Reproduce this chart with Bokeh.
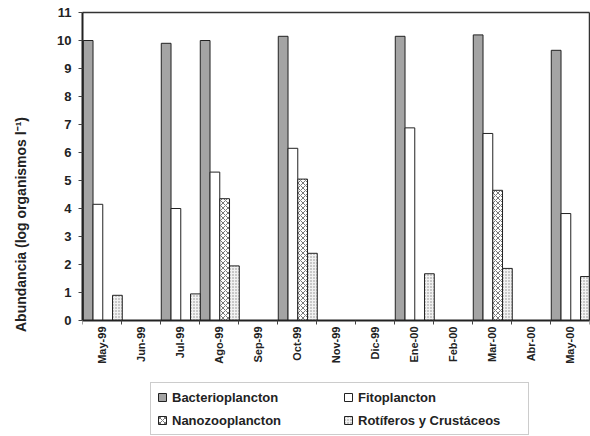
import math
from bokeh.plotting import figure
from bokeh.models import Range1d, FixedTicker, ColumnDataSource, Legend, LegendItem, LinearAxis
from bokeh.embed import file_html
from bokeh.resources import INLINE

months = ["May-99", "Jun-99", "Jul-99", "Ago-99", "Sep-99", "Oct-99", "Nov-99",
          "Dic-99", "Ene-00", "Feb-00", "Mar-00", "Abr-00", "May-00"]
bacterio = [10.0, 0, 9.9, 10.0, 0, 10.15, 0, 0, 10.15, 0, 10.2, 0, 9.65]
fito = [4.15, 0, 4.0, 5.3, 0, 6.15, 0, 0, 6.88, 0, 6.68, 0, 3.82]
nano = [0, 0, 0, 4.35, 0, 5.05, 0, 0, 0, 0, 4.65, 0, 0]
rotif = [0.9, 0, 0.95, 1.95, 0, 2.4, 0, 0, 1.67, 0, 1.86, 0, 1.57]
series_names = ["Bacterioplancton", "Fitoplancton", "Nanozooplancton", "Rotíferos y Crustáceos"]
y_ticks = list(range(0, 12))

FONT = "Liberation Sans"

styles = [
    dict(fill_color="#a4a4a4"),
    dict(fill_color="white"),
    dict(fill_color="white", hatch_pattern="x", hatch_scale=5, hatch_color="#555555", hatch_weight=0.8),
    dict(fill_color="#f2f2f2", hatch_pattern=".", hatch_scale=3, hatch_color="#888888", hatch_weight=1),
]

# frame reaches the bottom of the picture so that the legend can sit inside it;
# 28 px per unit keeps 0..11 between page y 320 and 12
y_max = 11
y_min = y_max - 424 / 28.0

p = figure(width=590, height=436, frame_width=507, frame_height=424,
           x_range=Range1d(0, 13), y_range=Range1d(y_min, y_max),
           output_backend="svg", toolbar_location=None,
           min_border_left=82, min_border_right=1, min_border_top=12, min_border_bottom=0)
p.background_fill_color = "white"
p.border_fill_color = "white"
p.outline_line_color = None
p.xgrid.visible = False
p.ygrid.visible = False

xax = p.xaxis[0]
yax = p.yaxis[0]

n = len(months)
bar_w = 0.25
renderers = []
for k, vals in enumerate([bacterio, fito, nano, rotif]):
    xs = [i + bar_w * (k + 0.5) + 0.02 for i in range(n)]
    src = ColumnDataSource(dict(x=xs, top=vals))
    r = p.vbar(x="x", top="top", bottom=0, width=bar_w, source=src,
               line_color="#222222", line_width=1, **styles[k])
    renderers.append(r)

centers = [i + 0.5 for i in range(n)]
xax.fixed_location = 0
xax.ticker = FixedTicker(ticks=centers, minor_ticks=list(range(n + 1)))
xax.major_label_overrides = {c: m for c, m in zip(centers, months)}
xax.major_label_orientation = math.pi / 2
xax.major_tick_out = 0
xax.major_tick_in = 0
xax.minor_tick_out = 4
xax.minor_tick_in = 0
xax.major_label_standoff = 2
xax.major_label_text_font = FONT
xax.major_label_text_font_style = "bold"
xax.major_label_text_font_size = "11px"
xax.major_label_text_color = "#222222"

yax.ticker = FixedTicker(ticks=y_ticks)
yax.bounds = (0, y_max)
yax.major_tick_out = 4
yax.major_tick_in = 0
yax.minor_tick_line_color = None
yax.major_label_standoff = 7
yax.major_label_text_font = FONT
yax.major_label_text_font_style = "bold"
yax.major_label_text_font_size = "13px"
yax.major_label_text_color = "#222222"
yax.axis_label = "Abundancia (log organismos l\u207b\u00b9)"
yax.axis_label_text_font = FONT
yax.axis_label_text_font_style = "bold"
yax.axis_label_text_font_size = "14px"
yax.axis_label_text_color = "#222222"
yax.axis_label_standoff = 25

for ax in (xax, yax):
    ax.axis_line_width = 2
    ax.axis_line_color = "#222222"
    ax.major_tick_line_color = "#444444"
xax.minor_tick_line_color = "#444444"

# plot-area border on top and right
top_ax = LinearAxis(ticker=FixedTicker(ticks=[]), axis_line_color="#333333", axis_line_width=1.5,
                    major_tick_line_color=None, minor_tick_line_color=None)
right_ax = LinearAxis(ticker=FixedTicker(ticks=[]), bounds=(0, y_max),
                      axis_line_color="#333333", axis_line_width=1.5,
                      major_tick_line_color=None, minor_tick_line_color=None)
p.add_layout(top_ax, "above")
p.add_layout(right_ax, "right")

legend = Legend(items=[LegendItem(label=nm, renderers=[r]) for nm, r in zip(series_names, renderers)],
                ncols=2, location=(68, 1), orientation="horizontal",
                glyph_width=10, glyph_height=10, label_standoff=5, label_width=164,
                label_height=16, spacing=7, padding=6, margin=0,
                label_text_font=FONT, label_text_font_style="bold", label_text_font_size="13px",
                label_text_color="#222222",
                border_line_color="#999999", border_line_width=1.5,
                background_fill_color="white", background_fill_alpha=1)
p.add_layout(legend, "center")

open("out.html", "w").write(file_html(p, INLINE))
